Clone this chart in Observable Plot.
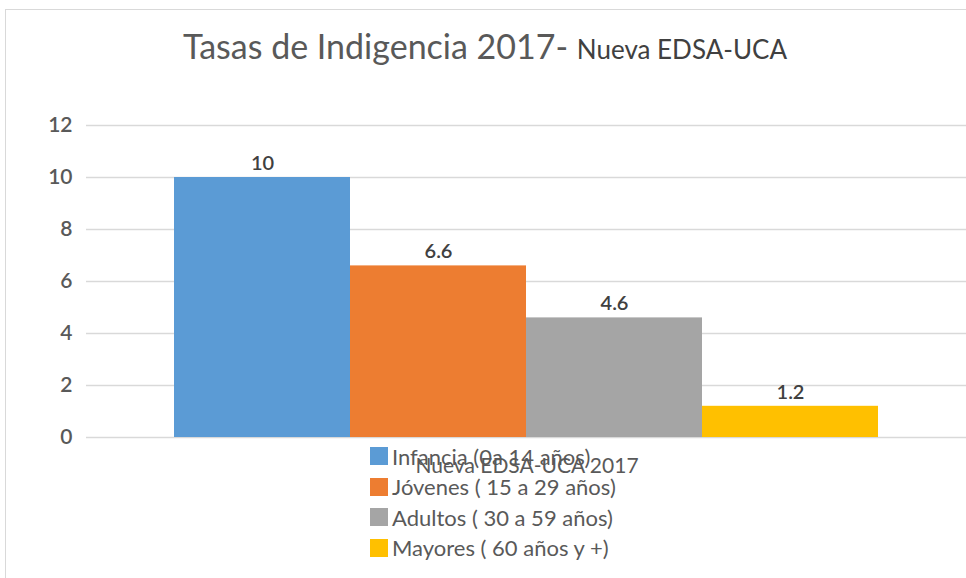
<!DOCTYPE html>
<html><head><meta charset="utf-8">
<script src="https://cdn.jsdelivr.net/npm/d3@7"></script>
<script src="https://cdn.jsdelivr.net/npm/@observablehq/plot@0.6"></script>
<style>
body{margin:0;background:#fff;}
#wrap{position:relative;width:966px;height:578px;overflow:hidden;font-family:Lato,"Open Sans",sans-serif;}
#border{position:absolute;left:5px;top:9px;width:980px;height:600px;border-top:1px solid #d9d9d9;border-left:1px solid #d9d9d9;}
#chart{position:absolute;left:0;top:0;}
#title{position:absolute;left:183px;top:25px;white-space:nowrap;color:#595959;font-size:34px;}
#title span{font-size:26px;color:#404040;}
#legend{position:absolute;left:370px;top:441px;}
.row{display:flex;align-items:center;height:30.5px;font-size:22px;color:#595959;}
.sw{width:18px;height:18px;margin-right:4px;}
#xlab{position:absolute;left:527px;top:452px;transform:translateX(-50%);font-size:21px;color:#595959;white-space:nowrap;}
</style></head>
<body><div id="wrap"><div id="border"></div><div id="chart"></div>
<div id="title"></div><div id="legend"></div><div id="xlab"></div></div>
<script>
const titleMain = "Tasas de Indigencia 2017-";
const titleSub = "Nueva EDSA-UCA";
const groupLabel = "Nueva EDSA-UCA 2017";
const categories = ["Infancia (0a 14 años)", "Jóvenes ( 15 a 29 años)", "Adultos ( 30 a 59 años)", "Mayores ( 60 años y +)"];
const values = [10, 6.6, 4.6, 1.2];
const colors = ["#5b9bd5", "#ed7d31", "#a5a5a5", "#ffc000"];
const yTicks = [0, 2, 4, 6, 8, 10, 12];

const data = categories.map((c, i) => ({cat: c, value: values[i], color: colors[i]}));

const chart = Plot.plot({
  width: 966, height: 578,
  marginTop: 125, marginBottom: 141, marginLeft: 86, marginRight: 0,
  style: {fontFamily: "Lato, 'Open Sans', sans-serif", background: "transparent"},
  x: {domain: categories, paddingInner: 0, paddingOuter: 0.5, axis: null},
  y: {domain: [0, 12], ticks: yTicks, tickSize: 0, tickPadding: 14, label: null, grid: false},
  marks: [
    Plot.ruleY(yTicks, {stroke: "#d9d9d9", strokeWidth: 1.5}),
    Plot.barY(data, {x: "cat", y: "value", fill: "color"}),
    Plot.text(data, {x: "cat", y: "value", text: d => String(d.value), dy: -14, fontSize: 20, fontWeight: 600, fill: "#404040"}),
    Plot.axisY({ticks: yTicks, tickSize: 0, tickPadding: 14, fontSize: 21, fontWeight: 600, fill: "#595959", label: null})
  ]
});
document.getElementById("chart").appendChild(chart);

const t = document.getElementById("title");
t.textContent = titleMain + " ";
const s = document.createElement("span"); s.textContent = titleSub; t.appendChild(s);

const lg = document.getElementById("legend");
categories.forEach((c, i) => {
  const r = document.createElement("div"); r.className = "row";
  const sw = document.createElement("div"); sw.className = "sw"; sw.style.background = colors[i];
  const tx = document.createElement("span"); tx.textContent = c;
  r.appendChild(sw); r.appendChild(tx); lg.appendChild(r);
});
document.getElementById("xlab").textContent = groupLabel;
</script></body></html>
